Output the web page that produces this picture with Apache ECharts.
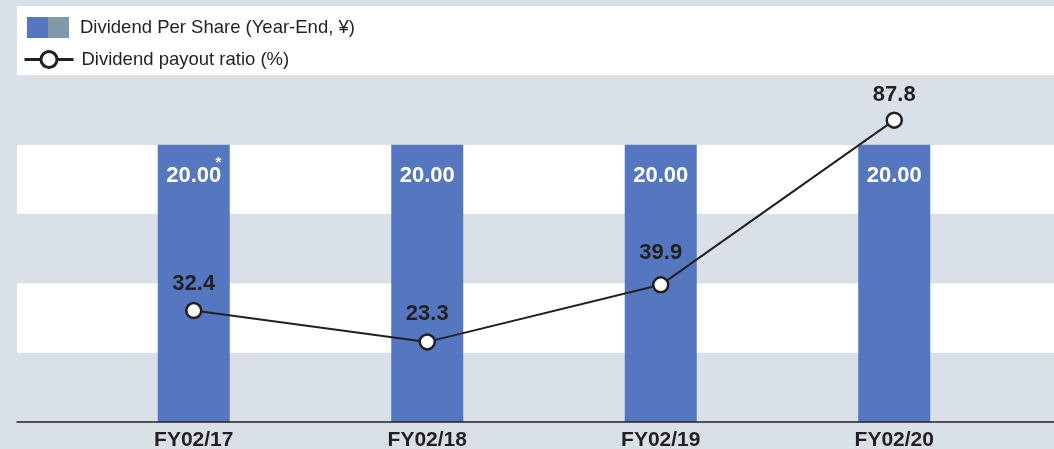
<!DOCTYPE html>
<html>
<head>
<meta charset="utf-8">
<script src="https://cdn.jsdelivr.net/npm/echarts@6/dist/echarts.min.js"></script>
<style>
  html, body { margin: 0; padding: 0; background: #d9e0e8; }
  #chart { width: 1054px; height: 449px; }
</style>
</head>
<body>
<div id="chart"></div>
<script>
// ---- data ----
const categories = ['FY02/17', 'FY02/18', 'FY02/19', 'FY02/20'];
const dividendPerShare = [20.00, 20.00, 20.00, 20.00];
const dividendNotes = ['*', '', '', ''];
const payoutRatio = [32.4, 23.3, 39.9, 87.8];
const barName = 'Dividend Per Share (Year-End, ¥)';
const lineName = 'Dividend payout ratio (%)';

// ---- style ----
const BLUE = '#5577bf';
const GREY_BLUE = '#8299a8';
const BAND = '#d9e0e8';
const INK = '#231f20';
const FONT = '"Liberation Sans", Arial, Helvetica, sans-serif';
const lineLabelLift = [1, 3, 7, 0]; // extra px of lift for each ratio label

const chart = echarts.init(document.getElementById('chart'), null, { renderer: 'canvas' });

chart.setOption({
  backgroundColor: BAND,
  animation: false,
  textStyle: { fontFamily: FONT },
  legend: [
    {
      data: [{
        name: barName,
        itemStyle: {
          color: {
            type: 'linear', x: 0, y: 0, x2: 1, y2: 0,
            colorStops: [
              { offset: 0, color: BLUE }, { offset: 0.5, color: BLUE },
              { offset: 0.5, color: GREY_BLUE }, { offset: 1, color: GREY_BLUE }
            ]
          }
        }
      }],
      left: 27, top: 17, padding: 0,
      itemWidth: 42, itemHeight: 21,
      icon: 'rect',
      textStyle: { fontFamily: FONT, fontSize: 18.5, color: INK, padding: [0, 0, 0, 6] },
      selectedMode: false
    },
    {
      data: [lineName],
      left: 23, top: 50, padding: 0,
      itemWidth: 49, itemHeight: 20,
      lineStyle: { width: 3, color: INK },
      itemStyle: { color: '#ffffff', borderColor: INK, borderWidth: 3 },
      textStyle: { fontFamily: FONT, fontSize: 18.5, color: INK, padding: [0, 0, 0, 3] },
      selectedMode: false
    }
  ],
  grid: [
    { left: 17, right: 0, top: 6, bottom: 27, outerBoundsMode: 'none', containLabel: false },
    { left: 77, right: 43, top: 6, bottom: 27, outerBoundsMode: 'none', containLabel: false }
  ],
  xAxis: [
    {
      gridIndex: 0, type: 'value', min: 0, max: 1, z: 5,
      axisLine: { show: true, lineStyle: { color: INK, width: 1.5 } },
      axisTick: { show: false }, axisLabel: { show: false }, splitLine: { show: false }
    },
    {
      gridIndex: 1, type: 'category', data: categories,
      axisLine: { show: false }, axisTick: { show: false },
      axisLabel: { color: INK, fontFamily: FONT, fontWeight: 'bold', fontSize: 21, margin: 8 }
    }
  ],
  yAxis: [
    {
      gridIndex: 0, type: 'value', min: 0, max: 30, interval: 5,
      axisLine: { show: false }, axisTick: { show: false }, axisLabel: { show: false },
      splitLine: { show: false },
      splitArea: { show: true, areaStyle: { color: [BAND, '#ffffff'] } }
    },
    {
      gridIndex: 1, type: 'value', min: 0, max: 30, show: false
    },
    {
      gridIndex: 1, type: 'value', min: 0, max: 121, show: false
    }
  ],
  series: [
    {
      name: barName,
      type: 'bar',
      xAxisIndex: 1, yAxisIndex: 1,
      data: dividendPerShare,
      barWidth: 72,
      itemStyle: { color: BLUE },
      z: 2,
      label: {
        show: true,
        position: 'insideTop',
        distance: 18,
        formatter: p => '{s|' + (dividendNotes[p.dataIndex] || ' ') + '}\n{v|' + p.value.toFixed(2) + '}',
        rich: {
          s: { fontFamily: FONT, fontWeight: 'bold', fontSize: 15, color: '#ffffff', lineHeight: 1, align: 'right' },
          v: { fontFamily: FONT, fontWeight: 'bold', fontSize: 22, color: '#ffffff', lineHeight: 24, align: 'center' }
        }
      }
    },
    {
      name: lineName,
      type: 'line',
      xAxisIndex: 1, yAxisIndex: 2,
      data: payoutRatio.map((v, i) => ({ value: v, label: { offset: [0, -lineLabelLift[i]] } })),
      symbol: 'circle',
      symbolSize: 15,
      z: 4,
      lineStyle: { color: INK, width: 2 },
      itemStyle: { color: '#ffffff', borderColor: INK, borderWidth: 2.5 },
      label: {
        show: true,
        position: 'top',
        distance: 5.5,
        color: INK,
        fontFamily: FONT,
        fontWeight: 'bold',
        fontSize: 22,
        formatter: p => p.value.toFixed(1)
      }
    }
  ]
});
</script>
</body>
</html>
